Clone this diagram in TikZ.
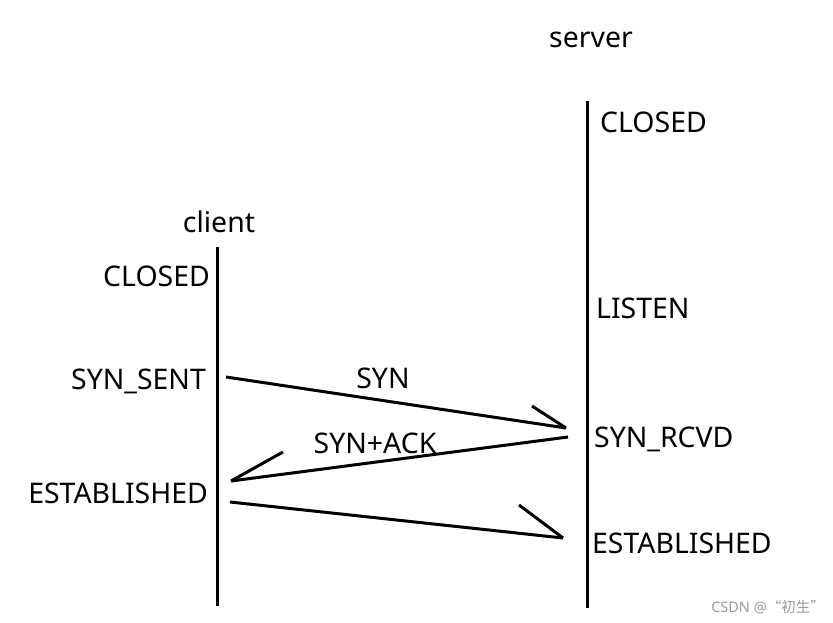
\documentclass[tikz,border=0pt]{standalone}
\usepackage{fontspec}
\setmainfont{Noto Sans}
\newfontfamily\cjk{Noto Sans CJK SC}
\begin{document}
\begin{tikzpicture}[x=1pt,y=-1pt,
  lbl/.style={inner sep=0pt,font=\fontsize{28.4}{31}\selectfont},
  life/.style={line width=3pt},
  msg/.style={line width=3pt},
  barb/.style={line width=3pt}]
\useasboundingbox (0,0) rectangle (833,623);
% lifelines
\coordinate (ctop) at (217,247);
\coordinate (cbot) at (217,606);
\coordinate (stop) at (587,101);
\coordinate (sbot) at (587,608);
\draw[life] (ctop) -- (cbot);
\draw[life] (stop) -- (sbot);
% labels
\node[lbl,anchor=base] (server) at (591,48) {server};
\node[lbl,anchor=base] (client) at (219,232) {client};
\node[lbl,anchor=base west] (sclosed) at (600,133) {CLOSED};
\node[lbl,anchor=base east] (cclosed) at (210,286) {CLOSED};
\node[lbl,anchor=base west] (listen) at (596,318) {LISTEN};
\node[lbl,anchor=base east] (synsent) at (206,389) {SYN\_SENT};
\node[lbl,anchor=base] (synlbl) at (383,388) {SYN};
\node[lbl,anchor=base west] (synrcvd) at (594,447) {SYN\_RCVD};
\node[lbl,anchor=base] (synack) at (375,453) {SYN+ACK};
\node[lbl,anchor=base east] (cest) at (208,503) {ESTABLISHED};
\node[lbl,anchor=base west] (sest) at (592,553) {ESTABLISHED};
% messages
\coordinate (a1s) at (226,377); \coordinate (a1e) at (566,428); \coordinate (a1b) at (532,406);
\coordinate (a2s) at (568,437); \coordinate (a2e) at (231,481); \coordinate (a2b) at (283,452);
\coordinate (a3s) at (230,502); \coordinate (a3e) at (563,538); \coordinate (a3b) at (519,505);
\draw[msg] (a1s) -- (a1e);
\draw[barb] (a1e) -- (a1b);
\draw[msg] (a2s) -- (a2e);
\draw[barb] (a2e) -- (a2b);
\draw[msg] (a3s) -- (a3e);
\draw[barb] (a3e) -- (a3b);
% watermark
\node[inner sep=0pt,anchor=base east,text=black!40,font=\fontsize{14.5}{17}\selectfont] (wm) at (825,612) {CSDN @{\cjk “初生”}};
\end{tikzpicture}
\end{document}
